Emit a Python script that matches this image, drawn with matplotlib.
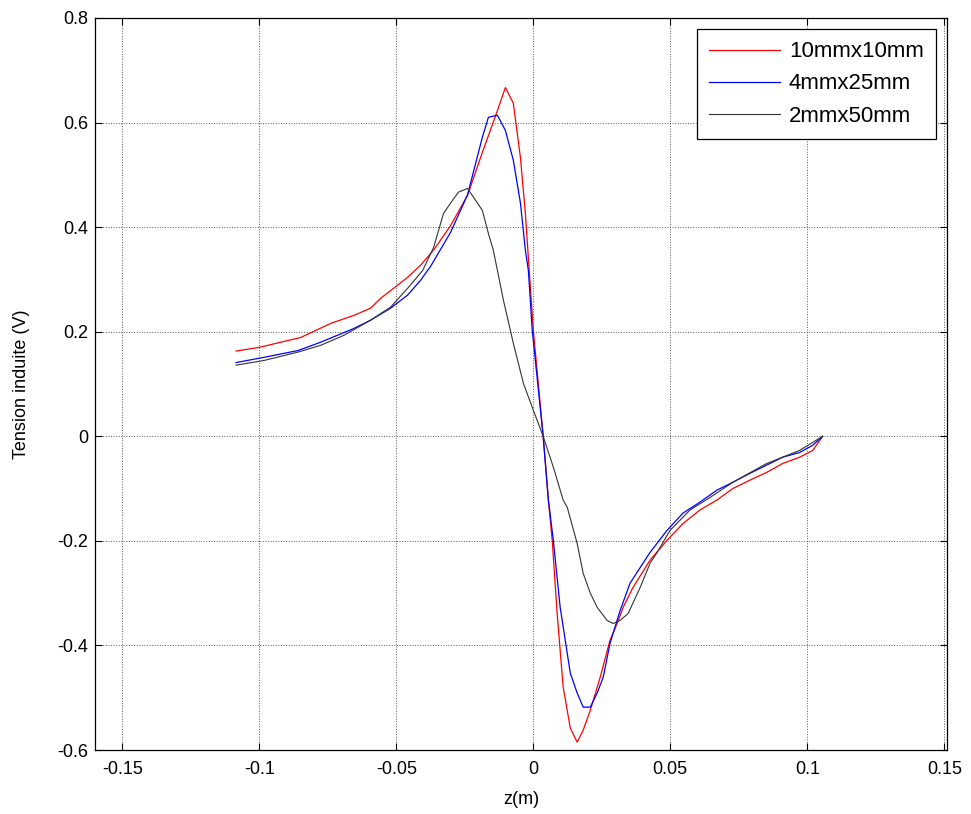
import numpy as np
import matplotlib
matplotlib.use('Agg')
import matplotlib.pyplot as plt
from matplotlib.ticker import FuncFormatter

plt.rcParams['font.family'] = ['Liberation Sans', 'DejaVu Sans']
plt.rcParams['axes.unicode_minus'] = False

# Values
z_red = [-0.1085, -0.1001, -0.0849, -0.0739, -0.0656, -0.0594, -0.0557, -0.0510, -0.0459,
         -0.0412, -0.0364, -0.0302, -0.0240, -0.0186, -0.0131, -0.0102, -0.0073, -0.0047,
         -0.0029, -0.0015, 0.0000, 0.0036, 0.0055, 0.0069, 0.0087, 0.0109, 0.0135, 0.0160,
         0.0182, 0.0208, 0.0244, 0.0280, 0.0306, 0.0328, 0.0364, 0.0426, 0.0488, 0.0546,
         0.0608, 0.0670, 0.0728, 0.0790, 0.0852, 0.0910, 0.0972, 0.1020, 0.1056]
v_red = [0.163, 0.170, 0.189, 0.216, 0.231, 0.245, 0.264, 0.283, 0.304,
         0.327, 0.356, 0.403, 0.461, 0.543, 0.623, 0.667, 0.637, 0.533,
         0.426, 0.317, 0.203, 0.000, -0.122, -0.199, -0.339, -0.480, -0.558, -0.585,
         -0.562, -0.524, -0.461, -0.390, -0.358, -0.327, -0.289, -0.237, -0.199, -0.167,
         -0.141, -0.122, -0.100, -0.084, -0.069, -0.052, -0.040, -0.027, 0.000]

z_blue = [-0.1085, -0.0983, -0.0859, -0.0776, -0.0656, -0.0594, -0.0521, -0.0459, -0.0412,
          -0.0375, -0.0302, -0.0240, -0.0186, -0.0164, -0.0131, -0.0102, -0.0073, -0.0047,
          -0.0029, -0.0018, -0.0004, 0.0036, 0.0055, 0.0073, 0.0098, 0.0135, 0.0160, 0.0182,
          0.0208, 0.0233, 0.0255, 0.0280, 0.0317, 0.0353, 0.0426, 0.0488, 0.0546, 0.0608,
          0.0670, 0.0728, 0.0790, 0.0852, 0.0910, 0.0972, 0.1020, 0.1056]
v_blue = [0.141, 0.151, 0.164, 0.180, 0.206, 0.222, 0.245, 0.270, 0.298,
          0.325, 0.390, 0.462, 0.572, 0.610, 0.614, 0.585, 0.528, 0.446,
          0.356, 0.317, 0.203, 0.000, -0.122, -0.199, -0.327, -0.453, -0.491, -0.518,
          -0.518, -0.491, -0.461, -0.396, -0.333, -0.281, -0.222, -0.180, -0.147, -0.126,
          -0.103, -0.088, -0.071, -0.055, -0.040, -0.031, -0.017, 0.000]

z_black = [-0.1085, -0.0983, -0.0859, -0.0776, -0.0692, -0.0594, -0.0521, -0.0459, -0.0404,
           -0.0364, -0.0328, -0.0302, -0.0273, -0.0240, -0.0218, -0.0186, -0.0164, -0.0146,
           -0.0109, -0.0073, -0.0036, 0.0000, 0.0036, 0.0073, 0.0109, 0.0124, 0.0160, 0.0182,
           0.0208, 0.0233, 0.0269, 0.0291, 0.0317, 0.0346, 0.0390, 0.0426, 0.0452, 0.0499,
           0.0572, 0.0645, 0.0728, 0.0852, 0.0972, 0.1056]
v_black = [0.136, 0.145, 0.161, 0.174, 0.193, 0.222, 0.247, 0.283, 0.317,
           0.361, 0.426, 0.446, 0.467, 0.474, 0.457, 0.432, 0.388, 0.356,
           0.260, 0.178, 0.101, 0.050, 0.000, -0.059, -0.122, -0.136, -0.205, -0.262,
           -0.300, -0.327, -0.352, -0.358, -0.352, -0.339, -0.289, -0.243, -0.222, -0.180,
           -0.141, -0.117, -0.088, -0.052, -0.027, 0.000]

labels = ['10mmx10mm', '4mmx25mm', '2mmx50mm']
xticks = [-0.15, -0.1, -0.05, 0, 0.05, 0.1, 0.15]
yticks = [-0.6, -0.4, -0.2, 0, 0.2, 0.4, 0.6, 0.8]

fig = plt.figure(figsize=(9.71, 8.14), dpi=100)
ax = fig.add_axes([0.0978, 0.0786, 0.8775, 0.8993])

ax.plot(z_red, v_red, color='#ff0000', lw=0.9, label=labels[0])
ax.plot(z_blue, v_blue, color='#0000ff', lw=0.9, label=labels[1])
ax.plot(z_black, v_black, color='#333333', lw=0.8, label=labels[2])

ax.set_xlim(-0.16, 0.151)
ax.set_ylim(-0.6, 0.8)
ax.set_xticks(xticks)
ax.set_yticks(yticks)
fmt = FuncFormatter(lambda v, p: '%g' % round(v, 4))
ax.xaxis.set_major_formatter(fmt)
ax.yaxis.set_major_formatter(fmt)
ax.tick_params(direction='in', top=True, right=True, labelsize=13, length=5, width=0.8)
ax.tick_params(axis='x', pad=8)
ax.tick_params(axis='y', pad=5)
ax.grid(True, color='#555555', linestyle=':', linewidth=0.7)

for s in ax.spines.values():
    s.set_linewidth(0.9)

ax.set_xlabel('z(m)', fontsize=13)
ax.set_ylabel('Tension induite (V)', fontsize=13)
ax.xaxis.set_label_coords(0.5, -0.056)
ax.yaxis.set_label_coords(-0.076, 0.5)

leg = ax.legend(loc='upper right', fontsize=16, handlelength=3.2, handletextpad=0.4,
                borderaxespad=0.5, fancybox=False, framealpha=1, edgecolor='black',
                labelspacing=0.5, borderpad=0.55)
leg.get_frame().set_linewidth(0.9)

fig.savefig('out.png', dpi=100)
